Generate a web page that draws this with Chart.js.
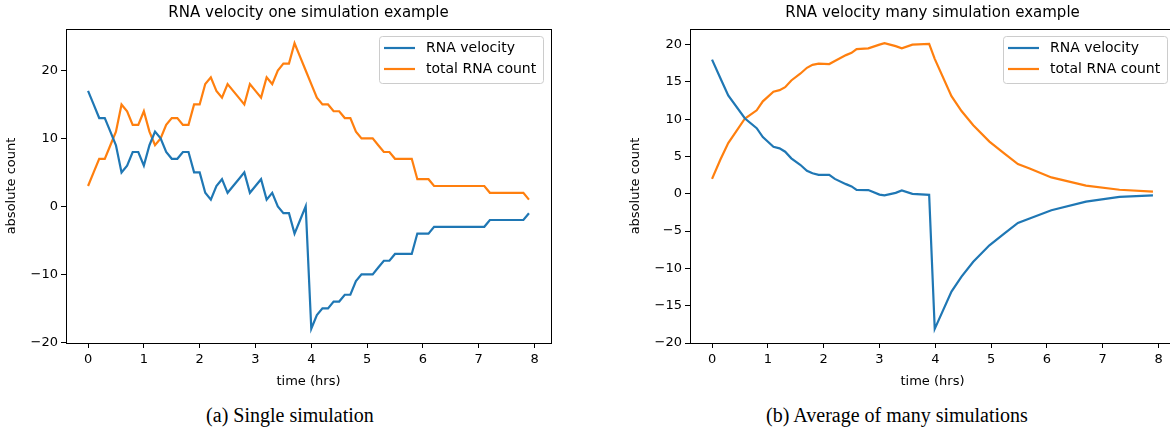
<!DOCTYPE html>
<html>
<head>
<meta charset="utf-8">
<script src="https://cdn.jsdelivr.net/npm/chart.js@4.4.0/dist/chart.umd.min.js"></script>
<style>
  body { margin: 0; background: #fff; width: 1170px; height: 433px; overflow: hidden; position: relative; }
  canvas { position: absolute; top: 0; }
  #chartOne { left: 0; }
  #chartMany { left: 624px; }
  .caption { position: absolute; top: 404px; font-family: "Liberation Serif", "DejaVu Serif", serif; font-size: 20px; text-align: center; color: #000; }
</style>
</head>
<body>
<canvas id="chartOne" width="580" height="395"></canvas>
<canvas id="chartMany" width="580" height="395"></canvas>
<div class="caption" style="left:0; width:580px;">(a) Single simulation</div>
<div class="caption" style="left:624px; width:546px;">(b) Average of many simulations</div>
<script>
// single simulation, sampled every 0.1 hrs
var timesOne = [0, 0.1, 0.2, 0.3, 0.4, 0.5, 0.6, 0.7, 0.8, 0.9,
                1, 1.1, 1.2, 1.3, 1.4, 1.5, 1.6, 1.7, 1.8, 1.9,
                2, 2.1, 2.2, 2.3, 2.4, 2.5, 2.6, 2.7, 2.8, 2.9,
                3, 3.1, 3.2, 3.3, 3.4, 3.5, 3.6, 3.7, 3.8, 3.9,
                4, 4.1, 4.2, 4.3, 4.4, 4.5, 4.6, 4.7, 4.8, 4.9,
                5, 5.1, 5.2, 5.3, 5.4, 5.5, 5.6, 5.7, 5.8, 5.9,
                6, 6.1, 6.2, 6.3, 6.4, 6.5, 6.6, 6.7, 6.8, 6.9,
                7, 7.1, 7.2, 7.3, 7.4, 7.5, 7.6, 7.7, 7.8, 7.9];
var velocityOne = [17, 15, 13, 13, 11, 9, 5, 6, 8, 8,
                   6, 9, 11, 10, 8, 7, 7, 8, 8, 5,
                   5, 2, 1, 3, 4, 2, 3, 4, 5, 2,
                   3, 4, 1, 2, 0, -1, -1, -4, -2, 0,
                   -18, -16, -15, -15, -14, -14, -13, -13, -11, -10,
                   -10, -10, -9, -8, -8, -7, -7, -7, -7, -4,
                   -4, -4, -3, -3, -3, -3, -3, -3, -3, -3,
                   -3, -3, -2, -2, -2, -2, -2, -2, -2, -1];
var countOne = [3, 5, 7, 7, 9, 11, 15, 14, 12, 12,
                14, 11, 9, 10, 12, 13, 13, 12, 12, 15,
                15, 18, 19, 17, 16, 18, 17, 16, 15, 18,
                17, 16, 19, 18, 20, 21, 21, 24, 22, 20,
                18, 16, 15, 15, 14, 14, 13, 13, 11, 10,
                10, 10, 9, 8, 8, 7, 7, 7, 7, 4,
                4, 4, 3, 3, 3, 3, 3, 3, 3, 3,
                3, 3, 2, 2, 2, 2, 2, 2, 2, 1];

// average of many simulations
var timesMany = [0, 0.15, 0.29, 0.59, 0.8, 0.91, 1.1, 1.21, 1.31, 1.42, 1.58, 1.7, 1.8,
                 1.91, 2.1, 2.2, 2.4, 2.5, 2.59, 2.8, 3.0, 3.09, 3.29, 3.4, 3.59, 3.89,
                 3.99, 4.29, 4.47, 4.68, 4.97, 5.24, 5.48, 5.69, 6.08, 6.7, 7.3, 7.9];
var velocityMany = [18.0, 15.5, 13.2, 10.1, 8.8, 7.6, 6.3, 6.1, 5.65, 4.76, 3.9, 3.1, 2.76,
                    2.54, 2.54, 2.0, 1.3, 1.0, 0.53, 0.5, -0.1, -0.2, 0.13, 0.45, 0.0, -0.13,
                    -18.1, -13.1, -11.1, -9.1, -6.9, -5.3, -3.9, -3.3, -2.2, -1.05, -0.4, -0.22];
var countMany = [2.0, 4.6, 6.8, 10.1, 11.2, 12.4, 13.7, 13.9, 14.3, 15.2, 16.1, 16.9, 17.3,
                 17.45, 17.4, 17.8, 18.6, 18.9, 19.4, 19.5, 20.0, 20.2, 19.8, 19.5, 20.0, 20.1,
                 18.1, 13.1, 11.1, 9.2, 7.0, 5.4, 4.0, 3.4, 2.2, 1.1, 0.55, 0.3];

var seriesNames = ['RNA velocity', 'total RNA count'];
var seriesColors = ['#1f77b4', '#ff7f0e'];
var xTicks = [0, 1, 2, 3, 4, 5, 6, 7, 8];
var yTicksOne = [-20, -10, 0, 10, 20];
var yTicksMany = [-20, -15, -10, -5, 0, 5, 10, 15, 20];

var FONT = '"DejaVu Sans", sans-serif';

function toPoints(xs, ys) {
    var pts = new Array();
    for (var i = 0; i < xs.length; i++) {
        pts.push({ x: xs[i], y: ys[i] });
    }
    return pts;
}

// matplotlib-like box around the axes
const axesFrame = {
    id: 'axesFrame',
    afterDraw(chart) {
        const a = chart.chartArea, ctx = chart.ctx;
        ctx.save();
        ctx.strokeStyle = '#000';
        ctx.lineWidth = 1;
        ctx.strokeRect(Math.round(a.left) + 0.5, Math.round(a.top) + 0.5,
                       Math.round(a.right - a.left), Math.round(a.bottom - a.top));
        ctx.restore();
    }
};

// legend drawn inside the axes, upper right
const insideLegend = {
    id: 'insideLegend',
    afterDraw(chart) {
        const a = chart.chartArea, ctx = chart.ctx;
        ctx.save();
        ctx.font = '14px ' + FONT;
        let w = 0;
        chart.data.datasets.forEach(ds => { w = Math.max(w, ctx.measureText(ds.label).width); });
        const boxW = Math.round(5 + 31 + 11 + w + 7), boxH = 47;
        const x = Math.round(a.right - 8 - boxW), y = Math.round(a.top + 7);
        ctx.beginPath();
        ctx.roundRect(x + 0.5, y + 0.5, boxW, boxH, 3);
        ctx.fillStyle = 'rgba(255,255,255,0.8)';
        ctx.fill();
        ctx.strokeStyle = '#cccccc';
        ctx.lineWidth = 1;
        ctx.stroke();
        chart.data.datasets.forEach((ds, i) => {
            const yy = y + 12 + i * 21;
            ctx.beginPath();
            ctx.moveTo(x + 5, yy);
            ctx.lineTo(x + 36, yy);
            ctx.strokeStyle = ds.borderColor;
            ctx.lineWidth = 2.2;
            ctx.stroke();
            ctx.fillStyle = '#000';
            ctx.textBaseline = 'middle';
            ctx.fillText(ds.label, x + 47, yy);
        });
        ctx.restore();
    }
};

function makeChart(canvasId, title, xs, vel, cnt, yMin, yMax, yTicks) {
    const ctx = document.getElementById(canvasId);
    const config = {
        type: 'line',
        data: {
            datasets: [
                {
                    label: seriesNames[0],
                    data: toPoints(xs, vel),
                    borderColor: seriesColors[0],
                    borderWidth: 2.2,
                    pointRadius: 0,
                    tension: 0,
                },
                {
                    label: seriesNames[1],
                    data: toPoints(xs, cnt),
                    borderColor: seriesColors[1],
                    borderWidth: 2.2,
                    pointRadius: 0,
                    tension: 0,
                },
            ]
        },
        options: {
            responsive: false,
            animation: false,
            devicePixelRatio: 1,
            layout: { padding: { left: 0, right: 29, top: 0, bottom: 0 } },
            plugins: {
                legend: { display: false },
                tooltip: { enabled: false },
                title: {
                    display: true,
                    text: title,
                    fullSize: false,
                    color: '#000',
                    font: { family: FONT, size: 15, weight: 'normal' },
                    padding: { top: 4, bottom: 7 },
                },
            },
            scales: {
                x: {
                    type: 'linear',
                    min: -0.395,
                    max: 8.295,
                    afterBuildTicks: s => { s.ticks = xTicks.map(v => ({ value: v })); },
                    afterFit: s => { s.height = 52; },
                    ticks: { color: '#000', font: { family: FONT, size: 13 }, padding: 4, maxRotation: 0 },
                    grid: { drawOnChartArea: false, tickLength: 5, tickColor: '#000' },
                    border: { display: false },
                    title: { display: true, text: 'time (hrs)', color: '#000',
                             font: { family: FONT, size: 13 }, padding: { top: 2, bottom: 6 } },
                },
                y: {
                    min: yMin,
                    max: yMax,
                    afterBuildTicks: s => { s.ticks = yTicks.map(v => ({ value: v })); },
                    afterFit: s => { s.width = 66; },
                    ticks: {
                        color: '#000', font: { family: FONT, size: 13 }, padding: 3,
                        callback: v => String(v).replace('-', '\u2212'),
                    },
                    grid: { drawOnChartArea: false, tickLength: 5, tickColor: '#000' },
                    border: { display: false },
                    title: { display: true, text: 'absolute count', color: '#000',
                             font: { family: FONT, size: 13 }, padding: { top: 4, bottom: 0 } },
                },
            },
        },
        plugins: [axesFrame, insideLegend],
    };
    return new Chart(ctx, config);
}

makeChart('chartOne', 'RNA velocity one simulation example', timesOne, velocityOne, countOne, -20.1, 26.1, yTicksOne);
makeChart('chartMany', 'RNA velocity many simulation example', timesMany, velocityMany, countMany, -20.0, 22.1, yTicksMany);
</script>
</body>
</html>
